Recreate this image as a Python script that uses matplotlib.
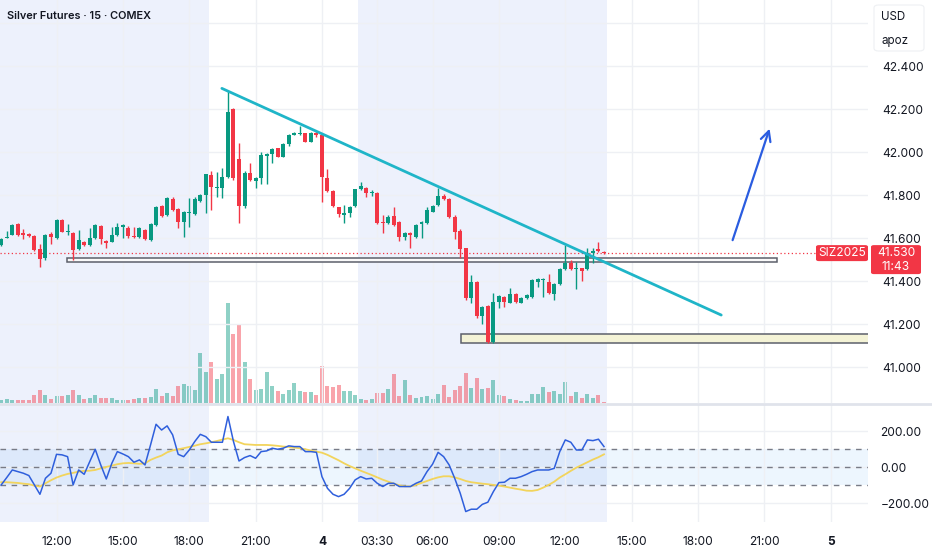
import matplotlib.pyplot as plt
from matplotlib.patches import Rectangle, FancyBboxPatch
from matplotlib.lines import Line2D
from matplotlib.colors import to_rgba

plt.rcParams['font.family'] = ['Inter', 'DejaVu Sans']

# 15-minute bars, index 0 = 12:00 on day 3
bar_index = list(range(-10, 100))

opens = [41.568, 41.599, 41.614, 41.664, 41.622, 41.619, 41.611, 41.548, 41.506, 41.619,
         41.599, 41.684, 41.630, 41.625, 41.548, 41.580, 41.568, 41.599, 41.656, 41.588,
         41.583, 41.614, 41.650, 41.648, 41.611, 41.603, 41.637, 41.591, 41.661, 41.749,
         41.707, 41.782, 41.735, 41.676, 41.715, 41.710, 41.774, 41.800, 41.893, 41.834,
         41.834, 41.885, 42.199, 41.966, 41.749, 41.904, 41.867, 41.878, 41.982, 41.991,
         42.017, 41.978, 42.037, 42.081, 42.084, 42.087, 42.048, 42.087, 42.079, 41.878,
         41.820, 41.743, 41.707, 41.715, 41.749, 41.827, 41.834, 41.811, 41.811, 41.676,
         41.672, 41.703, 41.676, 41.607, 41.625, 41.603, 41.665, 41.669, 41.723, 41.754,
         41.796, 41.780, 41.700, 41.634, 41.552, 41.320, 41.394, 41.238, 41.286, 41.118,
         41.304, 41.324, 41.300, 41.340, 41.300, 41.320, 41.327, 41.397, 41.405, 41.397,
         41.340, 41.386, 41.455, 41.486, 41.455, 41.459, 41.455, 41.532, 41.548, 41.537]

highs = [41.600, 41.634, 41.665, 41.668, 41.642, 41.625, 41.615, 41.571, 41.618, 41.630,
         41.688, 41.688, 41.664, 41.628, 41.637, 41.585, 41.645, 41.666, 41.660, 41.592,
         41.653, 41.672, 41.664, 41.656, 41.650, 41.652, 41.642, 41.668, 41.750, 41.753,
         41.790, 41.789, 41.740, 41.725, 41.785, 41.790, 41.805, 41.900, 41.913, 41.909,
         41.924, 42.285, 42.205, 42.040, 41.910, 41.951, 41.885, 42.002, 41.995, 42.018,
         42.020, 42.040, 42.083, 42.092, 42.123, 42.090, 42.095, 42.100, 42.080, 41.920,
         41.825, 41.745, 41.754, 41.750, 41.830, 41.862, 41.838, 41.823, 41.815, 41.707,
         41.707, 41.743, 41.680, 41.630, 41.630, 41.665, 41.677, 41.743, 41.755, 41.831,
         41.805, 41.785, 41.705, 41.640, 41.555, 41.428, 41.400, 41.283, 41.290, 41.343,
         41.335, 41.330, 41.366, 41.345, 41.324, 41.340, 41.410, 41.414, 41.412, 41.433,
         41.390, 41.460, 41.568, 41.498, 41.490, 41.462, 41.552, 41.552, 41.583, 41.541]

lows = [41.565, 41.598, 41.612, 41.610, 41.594, 41.605, 41.540, 41.467, 41.500, 41.572,
        41.595, 41.626, 41.614, 41.498, 41.545, 41.563, 41.565, 41.596, 41.572, 41.552,
        41.580, 41.610, 41.599, 41.599, 41.600, 41.600, 41.590, 41.588, 41.655, 41.700,
        41.703, 41.727, 41.645, 41.607, 41.653, 41.705, 41.770, 41.718, 41.731, 41.792,
        41.785, 41.880, 41.870, 41.672, 41.740, 41.865, 41.831, 41.851, 41.850, 41.947,
        41.975, 41.975, 42.030, 42.080, 42.080, 42.045, 42.045, 42.070, 41.769, 41.815,
        41.745, 41.700, 41.669, 41.696, 41.745, 41.825, 41.789, 41.796, 41.665, 41.625,
        41.665, 41.655, 41.588, 41.591, 41.552, 41.600, 41.599, 41.665, 41.720, 41.750,
        41.775, 41.695, 41.594, 41.506, 41.312, 41.297, 41.230, 41.200, 41.110, 41.110,
        41.273, 41.280, 41.296, 41.300, 41.296, 41.315, 41.320, 41.374, 41.327, 41.340,
        41.312, 41.380, 41.450, 41.450, 41.362, 41.402, 41.450, 41.486, 41.535, 41.525]

closes = [41.594, 41.607, 41.661, 41.614, 41.614, 41.611, 41.545, 41.503, 41.614, 41.607,
          41.684, 41.630, 41.634, 41.545, 41.591, 41.568, 41.599, 41.661, 41.594, 41.575,
          41.614, 41.650, 41.659, 41.611, 41.603, 41.648, 41.594, 41.664, 41.746, 41.704,
          41.785, 41.731, 41.676, 41.720, 41.718, 41.782, 41.800, 41.896, 41.839, 41.839,
          41.882, 42.188, 41.878, 41.749, 41.904, 41.870, 41.878, 41.986, 41.991, 42.014,
          41.978, 42.037, 42.079, 42.087, 42.090, 42.048, 42.090, 42.079, 41.882, 41.820,
          41.749, 41.710, 41.715, 41.746, 41.827, 41.842, 41.808, 41.816, 41.669, 41.669,
          41.699, 41.661, 41.603, 41.625, 41.614, 41.661, 41.673, 41.731, 41.751, 41.796,
          41.780, 41.700, 41.630, 41.548, 41.320, 41.394, 41.238, 41.278, 41.118, 41.304,
          41.331, 41.304, 41.340, 41.304, 41.320, 41.335, 41.405, 41.408, 41.408, 41.343,
          41.386, 41.455, 41.486, 41.455, 41.459, 41.448, 41.529, 41.540, 41.541, 41.530]

volumes = [270, 430, 270, 330, 270, 330, 770, 1270, 770, 430,
           670, 670, 770, 1330, 770, 370, 530, 770, 530, 530,
           530, 270, 330, 330, 430, 530, 530, 600, 1430, 670,
           1030, 700, 1670, 1870, 1670, 1270, 5030, 3100, 4100, 2370,
           2930, 10030, 6870, 7930, 4130, 2430, 1330, 1430, 3100, 1670,
           1200, 930, 1330, 2000, 1200, 1100, 1100, 770, 3730, 1730,
           1600, 1830, 1200, 1170, 770, 430, 270, 370, 1000, 1000,
           1370, 2930, 670, 2270, 830, 530, 600, 670, 430, 930,
           1830, 600, 1330, 1670, 3030, 1500, 2530, 1430, 1530, 2270,
           830, 670, 430, 330, 200, 200, 870, 870, 1600, 1100,
           1200, 870, 2130, 670, 1100, 530, 870, 530, 770, 100]

cci = [-98, -57, -15, -24, -33, -46, -98, -150, -61, -33,
       72, 69, 59, -98, -15, -39, 31, 100, 13, -65,
       22, 87, 74, 59, 28, 41, 13, 124, 239, 207,
       230, 180, 72, 59, 96, 143, 183, 170, 139, 139,
       139, 282, 143, 35, 54, 65, 50, 87, 91, 106,
       100, 106, 119, 115, 115, 87, 87, 83, -52, -117,
       -150, -163, -150, -117, -70, -52, -65, -61, -89, -107,
       -89, -89, -107, -107, -107, -89, -76, -24, 17, 83,
       59, 13, -61, -144, -246, -233, -233, -206, -194, -135,
       -85, -83, -61, -61, -52, -39, -24, -15, -15, -15,
       -6, 87, 152, 139, 96, 96, 152, 148, 156, 115]

cci_ma = [-83, -83, -85, -87, -91, -94, -102, -107, -89, -72,
          -57, -46, -37, -31, -24, -20, -19, -15, -6, 2,
          9, 17, 22, 24, 22, 19, 22, 41, 54, 65,
          83, 94, 100, 106, 113, 120, 128, 133, 139, 146,
          154, 161, 152, 139, 128, 126, 124, 124, 124, 122,
          119, 115, 113, 109, 106, 100, 93, 87, 81, 69,
          54, 39, 22, 7, -6, -19, -31, -43, -56, -69,
          -80, -91, -100, -106, -106, -98, -87, -76, -65, -56,
          -50, -50, -56, -65, -76, -83, -87, -91, -94, -98,
          -102, -107, -113, -119, -124, -130, -131, -126, -113, -98,
          -80, -57, -39, -20, -2, 13, 28, 43, 56, 72]

time_ticks = [0, 12, 24, 36, 48, 58, 68, 80, 92, 104, 116, 128, 140]
time_labels = ['12:00', '15:00', '18:00', '21:00', '4', '03:30', '06:00',
               '09:00', '12:00', '15:00', '18:00', '21:00', '5']
price_ticks = [41.0, 41.2, 41.4, 41.6, 41.8, 42.0, 42.2, 42.4]
cci_ticks = [-200, 0, 200]
cci_levels = [-100, 0, 100]

last_price = 41.530
countdown = '11:43'
symbol = 'SIZ2025'
session_spans = [(-11, 27.5), (54.5, 99.5)]
support_zone = (1.9, 130.3, 41.488, 41.507)
demand_zone = (73.1, 150.0, 41.114, 41.152)
trend_x = [29.9, 120.2]
trend_y = [42.296, 41.242]
arrow_from = (122.1, 41.578)
arrow_to = (129.1, 42.121)

W, H = 932, 550
GREEN = '#089981'
RED = '#f23645'
TXT = '#131722'
SESSION = '#edf1fc'
GRID = '#eef0f4'
FS = 8.6

fig = plt.figure(figsize=(W / 100, H / 100), dpi=100)
main_rect = [0, 147 / H, 868 / W, 403 / H]
ind_rect = [0, 28 / H, 868 / W, 117 / H]

# volume + session shading underneath
axv = fig.add_axes(main_rect)
ax = fig.add_axes(main_rect, sharex=axv)
ax.patch.set_alpha(0)
ax2 = fig.add_axes(ind_rect, sharex=axv)

up = [c >= o for o, c in zip(opens, closes)]
colors = [GREEN if u else RED for u in up]
vol_colors = [to_rgba(c, 0.45) for c in colors]

for a in (axv, ax2):
    for s0, s1 in session_spans:
        a.axvspan(s0, s1, color=SESSION, lw=0, zorder=0)

axv.bar(bar_index, volumes, width=0.72, color=vol_colors, zorder=2)
axv.set_ylim(0, max(volumes) * 4.02)
axv.set_yticks([])

# price pane
ax.set_xlim(-10.22, 146.74)
ax.set_ylim(40.833, 42.707)
ax.grid(True, color=GRID, lw=1, zorder=0)
ax.axhline(42.6, color=GRID, lw=1, zorder=0)

ax.add_patch(Rectangle((support_zone[0], support_zone[2]), support_zone[1] - support_zone[0],
                       support_zone[3] - support_zone[2], fc='#fafafa', ec='#5d606b', lw=1.1, zorder=2))
ax.add_patch(Rectangle((demand_zone[0], demand_zone[2]), demand_zone[1] - demand_zone[0],
                       demand_zone[3] - demand_zone[2], fc='#f4f3d6', ec='#5d606b', lw=1.1, zorder=2))

ax.axhline(last_price, color=RED, lw=0.9, ls=(0, (1, 2)), zorder=3)

bottoms = [min(o, c) for o, c in zip(opens, closes)]
heights = [max(abs(c - o), 0.004) for o, c in zip(opens, closes)]
ax.vlines(bar_index, lows, highs, colors=colors, lw=1, zorder=4)
ax.bar(bar_index, heights, bottom=bottoms, width=0.72, color=colors, zorder=5)

ax.plot(trend_x, trend_y, color='#1fb5c8', lw=2, zorder=6, solid_capstyle='round')
ax.annotate('', xy=arrow_to, xytext=arrow_from,
            arrowprops=dict(arrowstyle='->', color='#2a5ce0', lw=1.6, mutation_scale=18), zorder=6)

ax.yaxis.tick_right()
ax.set_yticks(price_ticks)
ax.set_yticklabels([f'{p:.3f}' for p in price_ticks])
ax.tick_params(axis='y', length=0, pad=10, labelsize=FS, labelcolor=TXT)
ax.tick_params(axis='x', length=0, labelbottom=False)
axv.tick_params(axis='x', length=0, labelbottom=False)

# indicator pane
ax2.set_ylim(-304, 346)
ax2.grid(True, color=GRID, lw=1, zorder=0)
ax2.axhspan(cci_levels[0], cci_levels[2], color='#2196f3', alpha=0.08, lw=0, zorder=1)
for lv in cci_levels:
    ax2.axhline(lv, color='#787b86', lw=1, ls=(0, (4, 4)), zorder=2)
ax2.plot(bar_index, cci_ma, color='#f2d45c', lw=1.3, zorder=3)
ax2.plot(bar_index, cci, color='#2f5fdc', lw=1.1, zorder=4)

ax2.yaxis.tick_right()
ax2.set_yticks(cci_ticks)
ax2.set_yticklabels([f'{v:.2f}'.replace('-', '\u2212') for v in cci_ticks])
ax2.tick_params(axis='y', length=0, pad=9, labelsize=FS, labelcolor=TXT)
ax2.set_xticks(time_ticks)
ax2.set_xticklabels(time_labels)
ax2.tick_params(axis='x', length=0, pad=10, labelsize=FS, labelcolor=TXT)
for lab in ax2.get_xticklabels():
    if lab.get_text() in ('4', '5'):
        lab.set_fontweight('bold')

for a in (ax, axv, ax2):
    for sp in a.spines.values():
        sp.set_visible(False)

# pane separator
fig.add_artist(Line2D([0, 1], [1 - 404 / H] * 2, color='#e0e3eb', lw=2))

# header and price-scale boxes
fig.text(7 / W, 1 - 16 / H, 'Silver Futures \u00b7 15 \u00b7 COMEX', fontsize=7.9,
         fontweight='semibold', color=TXT, va='center', ha='left')
fig.add_artist(FancyBboxPatch((874 / W, 1 - 51 / H), 50 / W, 46 / H, transform=fig.transFigure,
                              boxstyle='round,pad=0,rounding_size=0.005', fc='white', ec='#eef0f3', lw=0.8))
fig.text(881 / W, 1 - 17 / H, 'USD', fontsize=8.3, color=TXT, va='center', ha='left')
fig.text(881 / W, 1 - 41 / H, 'apoz', fontsize=8.3, color=TXT, va='center', ha='left')

fig.canvas.draw()
y_last = ax.transData.transform((0, last_price))[1] / fig.bbox.height
fig.add_artist(FancyBboxPatch((816 / W, y_last - 8 / H), 52 / W, 16 / H, transform=fig.transFigure,
                              boxstyle='round,pad=0,rounding_size=0.003', fc=RED, ec='none'))
fig.text(842 / W, y_last, symbol, fontsize=8.6, color='white', va='center', ha='center')
fig.add_artist(FancyBboxPatch((871 / W, y_last - 21 / H), 50 / W, 29 / H, transform=fig.transFigure,
                              boxstyle='round,pad=0,rounding_size=0.003', fc=RED, ec='none'))
fig.text(896 / W, y_last, f'{last_price:.3f}', fontsize=FS, color='white', va='center', ha='center')
fig.text(896 / W, y_last - 14 / H, countdown, fontsize=FS, color='white', va='center', ha='center')

fig.savefig('out.png', dpi=100, facecolor='white')
